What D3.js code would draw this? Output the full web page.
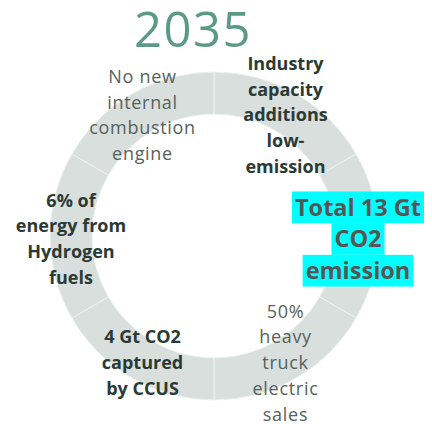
<!DOCTYPE html>
<html>
<head>
<meta charset="utf-8">
<script src="https://cdn.jsdelivr.net/npm/d3@7"></script>
<style>
  html, body { margin: 0; padding: 0; background: #fff; }
  svg { display: block; }
</style>
</head>
<body>
<div id="chart"></div>
<script>
// segments, clockwise from 12 o'clock
let segmentLabels = [
    ["Industry", "capacity", "additions", "low-", "emission"],
    ["Total 13 Gt", "CO2", "emission"],
    ["50%", "heavy", "truck", "electric", "sales"],
    ["4 Gt CO2", "captured", "by CCUS"],
    ["6% of", "energy from", "Hydrogen", "fuels"],
    ["No new", "internal", "combustion", "engine"]
];
let segmentValues = [1, 1, 1, 1, 1, 1];
let titleText = "2035";

const width = 432, height = 424;
const cx = 214, cy = 236;
const rOuter = 164, rInner = 122;

// label look per segment index
const labelKind = ["bold", "highlight", "light", "bold", "bold", "light"];

let svg = d3.select("#chart")
    .append("svg")
    .attr("width", width)
    .attr("height", height);

svg.append("text")
    .attr("x", 193)
    .attr("y", 47)
    .style("text-anchor", "middle")
    .style("font-family", "'Open Sans', sans-serif")
    .style("font-size", "49px")
    .style("letter-spacing", "1.5px")
    .style("fill", "#5b9a84")
    .text(titleText);

let g = svg.append("g")
    .attr("transform", `translate(${cx}, ${cy})`);

let pie = d3.pie().sort(null).value(d => d);
let arc = d3.arc().innerRadius(rInner).outerRadius(rOuter);
let arcs = pie(segmentValues);

g.selectAll("path")
    .data(arcs)
    .enter()
    .append("path")
    .attr("d", arc)
    .attr("fill", "#d9dfdd")
    .attr("stroke", "#eef1f0")
    .attr("stroke-width", 1);

arcs.forEach(function(a, i) {
    let [x, y] = arc.centroid(a);
    let kind = labelKind[i];
    let lines = segmentLabels[i];
    let lh = kind == "highlight" ? 31.7 : 25.7;
    let top = y + 3 - lh * (lines.length - 1) / 2;
    let lg = g.append("g");

    lines.forEach(function(line, j) {
        let t = lg.append("text")
            .attr("x", kind == "highlight" ? x + 1 : x)
            .attr("y", top + j * lh)
            .attr("dy", "0.35em")
            .style("text-anchor", "middle")
            .style("font-family", "'Open Sans', sans-serif")
            .text(line);
        if (kind == "light") {
            t.style("font-size", "18px")
                .style("letter-spacing", "0.7px")
                .style("fill", "#56625d");
        } else if (kind == "bold") {
            t.style("font-size", "18px")
                .style("font-weight", 700)
                .style("fill", "#2c3a35");
        } else {
            t.style("font-size", "23.5px")
                .style("font-weight", 700)
                .style("fill", "#555555");
            let w = t.node().getComputedTextLength();
            lg.insert("rect", "text")
                .attr("x", x + 1 - w / 2 - 3)
                .attr("y", top + j * lh - lh / 2)
                .attr("width", w + 6)
                .attr("height", lh)
                .attr("fill", "#00ffff");
        }
    });
});
</script>
</body>
</html>
